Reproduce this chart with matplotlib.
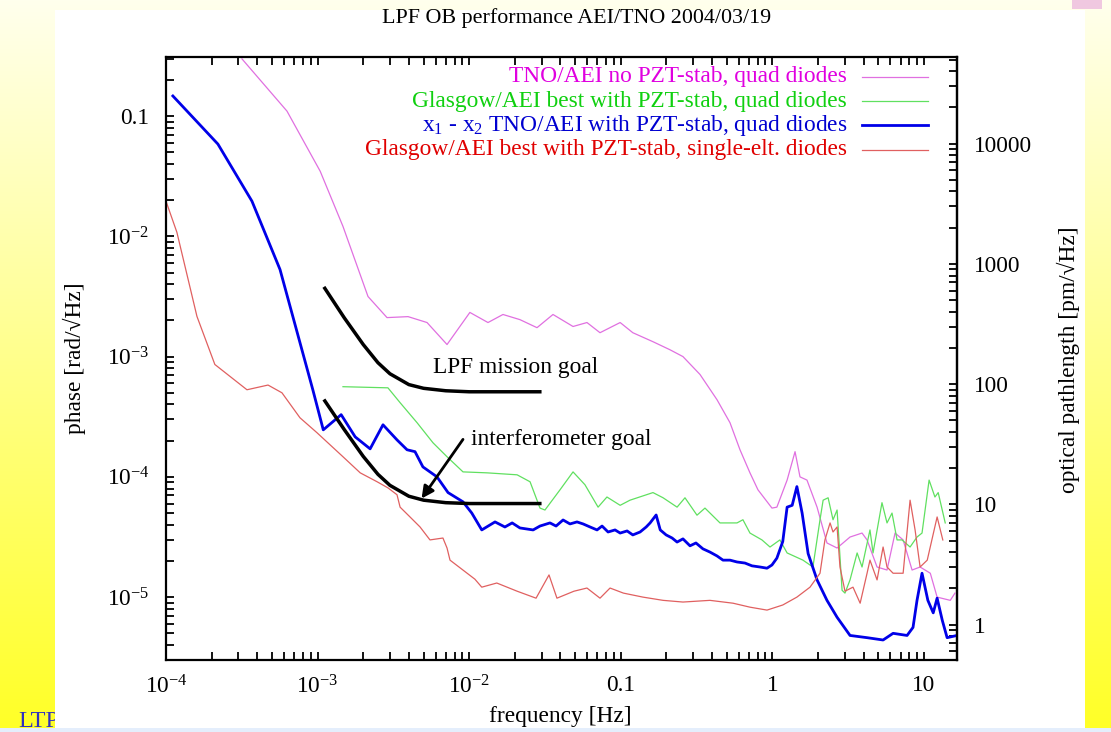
import numpy as np
import matplotlib
matplotlib.use("Agg")
import matplotlib.pyplot as plt
from matplotlib import ticker
from matplotlib.patches import Rectangle

plt.rcParams['font.family'] = ['Liberation Serif', 'DejaVu Serif']
plt.rcParams['mathtext.default'] = 'regular'
plt.rcParams['mathtext.fontset'] = 'custom'
plt.rcParams['mathtext.rm'] = 'Liberation Serif'

# ---- data: frequency [Hz], phase [rad/sqrt(Hz)] ----
tno_nopzt_f = [3.17e-4, 6.28e-4, 1.04e-3, 1.47e-3, 2.15e-3, 2.87e-3, 3.95e-3, 5.27e-3,
               7.14e-3, 1.01e-2, 1.33e-2, 1.67e-2, 2.16e-2, 2.80e-2, 3.57e-2, 4.84e-2,
               5.98e-2, 7.29e-2, 9.9e-2, 0.120, 0.163, 0.211, 0.257, 0.333, 0.431,
               0.525, 0.611, 0.711, 0.803, 0.993, 1.07, 1.25, 1.41, 1.52, 1.69, 1.97,
               2.29, 2.67, 3.25, 3.90, 4.21, 4.90, 5.70, 6.44, 7.28, 8.34, 9.42, 11.0,
               12.2, 14.9, 16.0]
tno_nopzt_p = [0.299, 0.110, 0.0348, 0.0121, 3.16e-3, 2.11e-3, 2.15e-3, 1.92e-3,
               1.26e-3, 2.33e-3, 1.92e-3, 2.24e-3, 2.03e-3, 1.74e-3, 2.24e-3, 1.78e-3,
               1.92e-3, 1.58e-3, 1.92e-3, 1.58e-3, 1.33e-3, 1.14e-3, 1.0e-3, 7.1e-4, 4.38e-4,
               2.82e-4, 1.68e-4, 1.08e-4, 7.8e-5, 5.5e-5, 5.6e-5, 9.4e-5, 1.62e-4, 1.0e-4, 9.4e-5, 5.6e-5,
               2.82e-5, 2.56e-5, 3.16e-5, 3.41e-5, 2.99e-5, 1.78e-5, 1.68e-5, 3.41e-5, 2.99e-5, 1.68e-5, 1.78e-5, 1.58e-5,
               1.0e-5, 9.4e-6, 1.08e-5]

glasgow_quad_f = [1.47e-3, 2.91e-3, 3.50e-3, 4.53e-3, 5.77e-3, 7.14e-3, 9.1e-3, 1.31e-2,
                  2.07e-2, 2.52e-2, 2.93e-2, 3.16e-2, 3.97e-2, 4.84e-2, 5.8e-2, 7.08e-2,
                  8.1e-2, 9.9e-2, 0.115, 0.163, 0.190, 0.235, 0.265, 0.318, 0.359, 0.451,
                  0.584, 0.639, 0.711, 0.853, 0.964, 1.12, 1.25, 1.59, 1.85, 2.06, 2.16,
                  2.33, 2.51, 2.67, 2.88, 3.01, 3.25, 3.62, 3.90, 4.40, 4.61, 5.28, 5.70,
                  6.15, 6.64, 7.16, 8.09, 8.99, 9.70, 10.8, 11.8, 12.4, 13.8]
glasgow_quad_p = [5.62e-4, 5.5e-4, 4.14e-4, 2.82e-4, 1.92e-4, 1.47e-4, 1.10e-4, 1.08e-4,
                  1.04e-4, 9.1e-5, 5.5e-5, 5.3e-5, 7.8e-5, 1.10e-4, 8.6e-5, 5.6e-5,
                  6.8e-5, 5.8e-5, 6.4e-5, 7.4e-5, 6.7e-5, 5.6e-5, 6.7e-5, 4.8e-5, 5.5e-5, 4.14e-5,
                  4.14e-5, 4.4e-5, 3.41e-5, 2.99e-5, 2.61e-5, 2.99e-5, 2.33e-5, 2.03e-5, 1.78e-5, 4.4e-5, 6.4e-5,
                  6.7e-5, 4.4e-5, 5.3e-5, 1.14e-5, 1.08e-5, 1.39e-5, 2.33e-5, 1.78e-5, 3.62e-5, 2.33e-5, 6.1e-5, 4.14e-5,
                  5.0e-5, 2.99e-5, 2.99e-5, 2.61e-5, 3.16e-5, 3.41e-5, 9.4e-5, 6.8e-5, 7.4e-5, 4.14e-5]

x1x2_f = [1.11e-4, 2.20e-4, 3.69e-4, 5.65e-4, 9.3e-4, 1.09e-3, 1.43e-3, 1.77e-3, 2.22e-3,
          2.70e-3, 3.34e-3, 3.89e-3, 4.39e-3, 4.95e-3, 6.13e-3, 7.25e-3, 9.1e-3, 1.04e-2,
          1.21e-2, 1.37e-2, 1.48e-2, 1.72e-2, 1.92e-2, 2.16e-2, 2.64e-2, 2.93e-2, 3.41e-2,
          3.74e-2, 4.16e-2, 4.62e-2, 5.14e-2, 5.64e-2, 6.27e-2, 6.97e-2, 7.52e-2, 8.24e-2,
          9.16e-2, 9.9e-2, 0.110, 0.120, 0.134, 0.147, 0.156, 0.171, 0.182, 0.199, 0.218,
          0.235, 0.257, 0.286, 0.313, 0.348, 0.387, 0.431, 0.472, 0.525, 0.584, 0.659,
          0.733, 0.828, 0.921, 0.993, 1.07, 1.17, 1.25, 1.35, 1.45, 1.57, 1.72, 1.97, 2.29,
          2.67, 3.25, 4.21, 5.37, 6.25, 7.73, 8.46, 8.99, 9.70, 10.6, 11.5, 12.2, 13.2,
          14.2, 16.5]
x1x2_p = [0.147, 0.0585, 0.0196, 5.3e-3, 5.3e-4, 2.46e-4, 3.29e-4, 2.15e-4, 1.71e-4,
          2.71e-4, 2.03e-4, 1.68e-4, 1.62e-4, 1.21e-4, 1.0e-4, 7.4e-5, 6.2e-5, 5.0e-5,
          3.62e-5, 3.98e-5, 4.22e-5, 3.83e-5, 4.14e-5, 3.76e-5, 3.62e-5, 3.90e-5, 4.14e-5,
          3.90e-5, 4.38e-5, 4.06e-5, 4.22e-5, 4.06e-5, 3.83e-5, 3.62e-5, 3.90e-5, 3.48e-5,
          3.62e-5, 3.41e-5, 3.55e-5, 3.29e-5, 3.48e-5, 3.83e-5, 4.14e-5, 4.82e-5, 3.62e-5, 3.29e-5, 3.10e-5,
          2.87e-5, 3.05e-5, 2.67e-5, 2.82e-5, 2.52e-5, 2.37e-5, 2.20e-5, 2.03e-5, 2.03e-5, 1.96e-5, 1.92e-5,
          1.82e-5, 1.78e-5, 1.74e-5, 1.85e-5, 2.11e-5, 2.9e-5, 5.6e-5, 5.8e-5, 8.3e-5, 5.0e-5, 2.3e-5, 1.39e-5, 9.4e-6,
          6.8e-6, 4.8e-6, 4.6e-6, 4.4e-6, 5.0e-6, 4.8e-6, 5.6e-6, 9.4e-6, 1.58e-5, 9.4e-6, 7.4e-6, 9.8e-6, 6.4e-6,
          4.6e-6, 4.8e-6]

glasgow_single_f = [1.0e-4, 1.18e-4, 1.60e-4, 2.10e-4, 3.42e-4, 4.71e-4, 5.82e-4, 7.65e-4,
                    9.9e-4, 1.47e-3, 1.91e-3, 2.47e-3, 2.91e-3, 3.34e-3, 3.50e-3, 4.07e-3,
                    4.74e-3, 5.51e-3, 6.71e-3, 7.14e-3, 7.47e-3, 1.09e-2, 1.21e-2, 1.52e-2,
                    2.07e-2, 2.76e-2, 3.36e-2, 3.79e-2, 4.91e-2, 5.98e-2, 7.29e-2, 8.49e-2,
                    0.104, 0.140, 0.190, 0.257, 0.387, 0.550, 0.711, 0.921, 1.17, 1.45, 1.77,
                    2.06, 2.22, 2.40, 2.51, 2.67, 2.79, 3.01, 3.40, 3.79, 4.21, 4.40, 4.90,
                    5.37, 5.70, 6.25, 7.28, 8.09, 8.73, 9.42, 10.5, 12.2, 13.3]
glasgow_single_p = [1.96e-2, 1.08e-2, 2.16e-3, 8.6e-4, 5.3e-4, 5.8e-4, 5.0e-4, 3.10e-4,
                    2.33e-4, 1.47e-4, 1.08e-4, 9.1e-5, 8.1e-5, 7.1e-5, 5.6e-5, 4.64e-5,
                    3.83e-5, 2.99e-5, 3.10e-5, 2.56e-5, 2.03e-5, 1.41e-5, 1.21e-5, 1.31e-5,
                    1.12e-5, 9.8e-6, 1.53e-5, 9.8e-6, 1.12e-5, 1.19e-5, 9.8e-6, 1.19e-5,
                    1.08e-5, 1.0e-5, 9.4e-6, 9.1e-6, 9.4e-6, 8.9e-6, 8.25e-6, 7.8e-6, 8.6e-6, 1.0e-5, 1.21e-5,
                    1.58e-5, 2.99e-5, 4.14e-5, 3.48e-5, 3.83e-5, 1.78e-5, 1.12e-5, 1.21e-5, 8.9e-6, 1.58e-5, 2.03e-5, 1.39e-5,
                    2.61e-5, 1.78e-5, 1.58e-5, 1.58e-5, 6.4e-5, 3.62e-5, 1.78e-5, 2.03e-5, 4.64e-5, 2.99e-5]

goal_f = [1.1e-3, 1.5e-3, 2.0e-3, 2.5e-3, 3.0e-3, 4.0e-3, 5.0e-3, 7.0e-3, 1.0e-2, 3.0e-2]
lpf_goal_p = [3.8e-3, 2.1e-3, 1.26e-3, 8.9e-4, 7.2e-4, 5.85e-4, 5.45e-4, 5.2e-4, 5.1e-4, 5.1e-4]
ifo_goal_p = [4.4e-4, 2.47e-4, 1.48e-4, 1.05e-4, 8.5e-5, 6.9e-5, 6.4e-5, 6.1e-5, 6.0e-5, 6.0e-5]

labels = ["TNO/AEI no PZT-stab, quad diodes",
          "Glasgow/AEI best with PZT-stab, quad diodes",
          r"x$_1$ - x$_2$ TNO/AEI with PZT-stab, quad diodes",
          "Glasgow/AEI best with PZT-stab, single-elt. diodes"]
text_colors = ['#e000e0', '#10d010', '#0000d0', '#e00000']
line_colors = ['#e070e0', '#60e060', '#0000e8', '#e06060']
line_widths = [0.9, 0.9, 2.0, 0.9]

pm_ticks = [1, 10, 100, 1000, 10000]
RAD_TO_PM = 1.064e6 / (2 * np.pi)   # 1064 nm wavelength, in pm per rad

FS = 16.8

W, H = 1111, 732
fig = plt.figure(figsize=(W / 100, H / 100), dpi=100)

# slide background: yellow gradient with a white panel on top
bg = fig.add_axes([0, 0, 1, 1], zorder=-10)
t = np.linspace(0, 1, H)[:, None]
grad = np.ones((H, 2, 3))
grad[:, :, 2] = (0.93 - 0.78 * t)
bg.imshow(grad, aspect='auto', extent=[0, 1, 0, 1])
bg.axis('off')
fig.text(18 / W, 1 - 727 / H, "LTP", color='#3030c0', fontsize=17.5, va='baseline', zorder=-8)
fig.patches.append(Rectangle((55 / W, 4 / H), 1030 / W, 718 / H, transform=fig.transFigure,
                             facecolor='white', edgecolor='none', zorder=-5))
fig.patches.append(Rectangle((0, 0), 1, 4 / H, transform=fig.transFigure,
                             facecolor='#e4eefc', edgecolor='none', zorder=20))
fig.patches.append(Rectangle((1072 / W, 1 - 9 / H), 30 / W, 9 / H, transform=fig.transFigure,
                             facecolor='#f0c8e0', edgecolor='none', zorder=-4))

ax = fig.add_axes([166 / W, 1 - 660 / H, 791 / W, 603 / H])
ax.set_facecolor('none')

series = [(tno_nopzt_f, tno_nopzt_p), (glasgow_quad_f, glasgow_quad_p),
          (x1x2_f, x1x2_p), (glasgow_single_f, glasgow_single_p)]
for (f, p), c, lw in zip(series, line_colors, line_widths):
    ax.plot(f, p, color=c, lw=lw)

ax.plot(goal_f, lpf_goal_p, color='black', lw=2.5, solid_capstyle='butt')
ax.plot(goal_f, ifo_goal_p, color='black', lw=2.5, solid_capstyle='butt')
ax.text(5.8e-3, 8.1e-4, "LPF mission goal", fontsize=FS, va='center', ha='left')
ax.text(1.02e-2, 2.03e-4, "interferometer goal", fontsize=FS, va='center', ha='left')
ax.annotate('', xy=(4.85e-3, 6.6e-5), xytext=(9.1e-3, 2.05e-4),
            arrowprops=dict(arrowstyle='-|>', lw=2.0, color='black', mutation_scale=18,
                            shrinkA=0, shrinkB=0))

ax.set_xscale('log')
ax.set_yscale('log')
ax.set_xlim(1e-4, 16.5)
ax.set_ylim(3e-6, 0.31)


def log_fmt(v, pos):
    e = int(round(np.log10(v)))
    if e >= -1:
        return f'{v:g}'
    return r'$10^{%d}$' % e


for axis in (ax.xaxis, ax.yaxis):
    axis.set_major_locator(ticker.LogLocator(base=10))
    axis.set_minor_locator(ticker.LogLocator(base=10, subs=np.arange(2, 10)))
    axis.set_major_formatter(ticker.FuncFormatter(log_fmt))
    axis.set_minor_formatter(ticker.NullFormatter())

ax.tick_params(which='both', direction='in', length=6, width=1.3, top=True, right=False,
               labelsize=FS, color='black')
ax.tick_params(axis='y', pad=12)
ax.tick_params(axis='x', pad=11)
for s in ax.spines.values():
    s.set_linewidth(1.6)

ax2 = ax.secondary_yaxis('right', functions=(lambda p: p * RAD_TO_PM, lambda o: o / RAD_TO_PM))
ax2.yaxis.set_major_locator(ticker.FixedLocator(pm_ticks))
ax2.yaxis.set_minor_locator(ticker.LogLocator(base=10, subs=np.arange(2, 10)))
ax2.yaxis.set_major_formatter(ticker.FuncFormatter(lambda v, pos: f'{v:g}'))
ax2.yaxis.set_minor_formatter(ticker.NullFormatter())
ax2.tick_params(which='both', direction='in', length=6, width=1.3, labelsize=FS, pad=12)
ax2.spines['right'].set_linewidth(1.6)

ax.set_xlabel("frequency [Hz]", fontsize=FS)
ax.xaxis.set_label_coords(0.498, -0.076)
ax.set_ylabel("phase [rad/\u221aHz]", fontsize=FS)
ax.yaxis.set_label_coords(-0.101, 0.5)
fig.text(1068 / W, 1 - 360 / H, "optical pathlength [pm/\u221aHz]", fontsize=FS,
         rotation=90, ha='center', va='center')

# legend, gnuplot style: right-justified text with sample line on the right
rows = [0.967, 0.927, 0.887, 0.846]
for lab, tc, lc, lw, yy in zip(labels, text_colors, line_colors, line_widths, rows):
    ax.text(0.861, yy, lab, color=tc, fontsize=FS, ha='right', va='center', transform=ax.transAxes)
    ax.plot([0.880, 0.963], [yy, yy], color=lc, lw=lw, transform=ax.transAxes)

fig.text(577 / W, 1 - 18 / H, "LPF OB performance AEI/TNO 2004/03/19", fontsize=15.8,
         ha='center', va='center')

fig.savefig("out.png", dpi=100)
